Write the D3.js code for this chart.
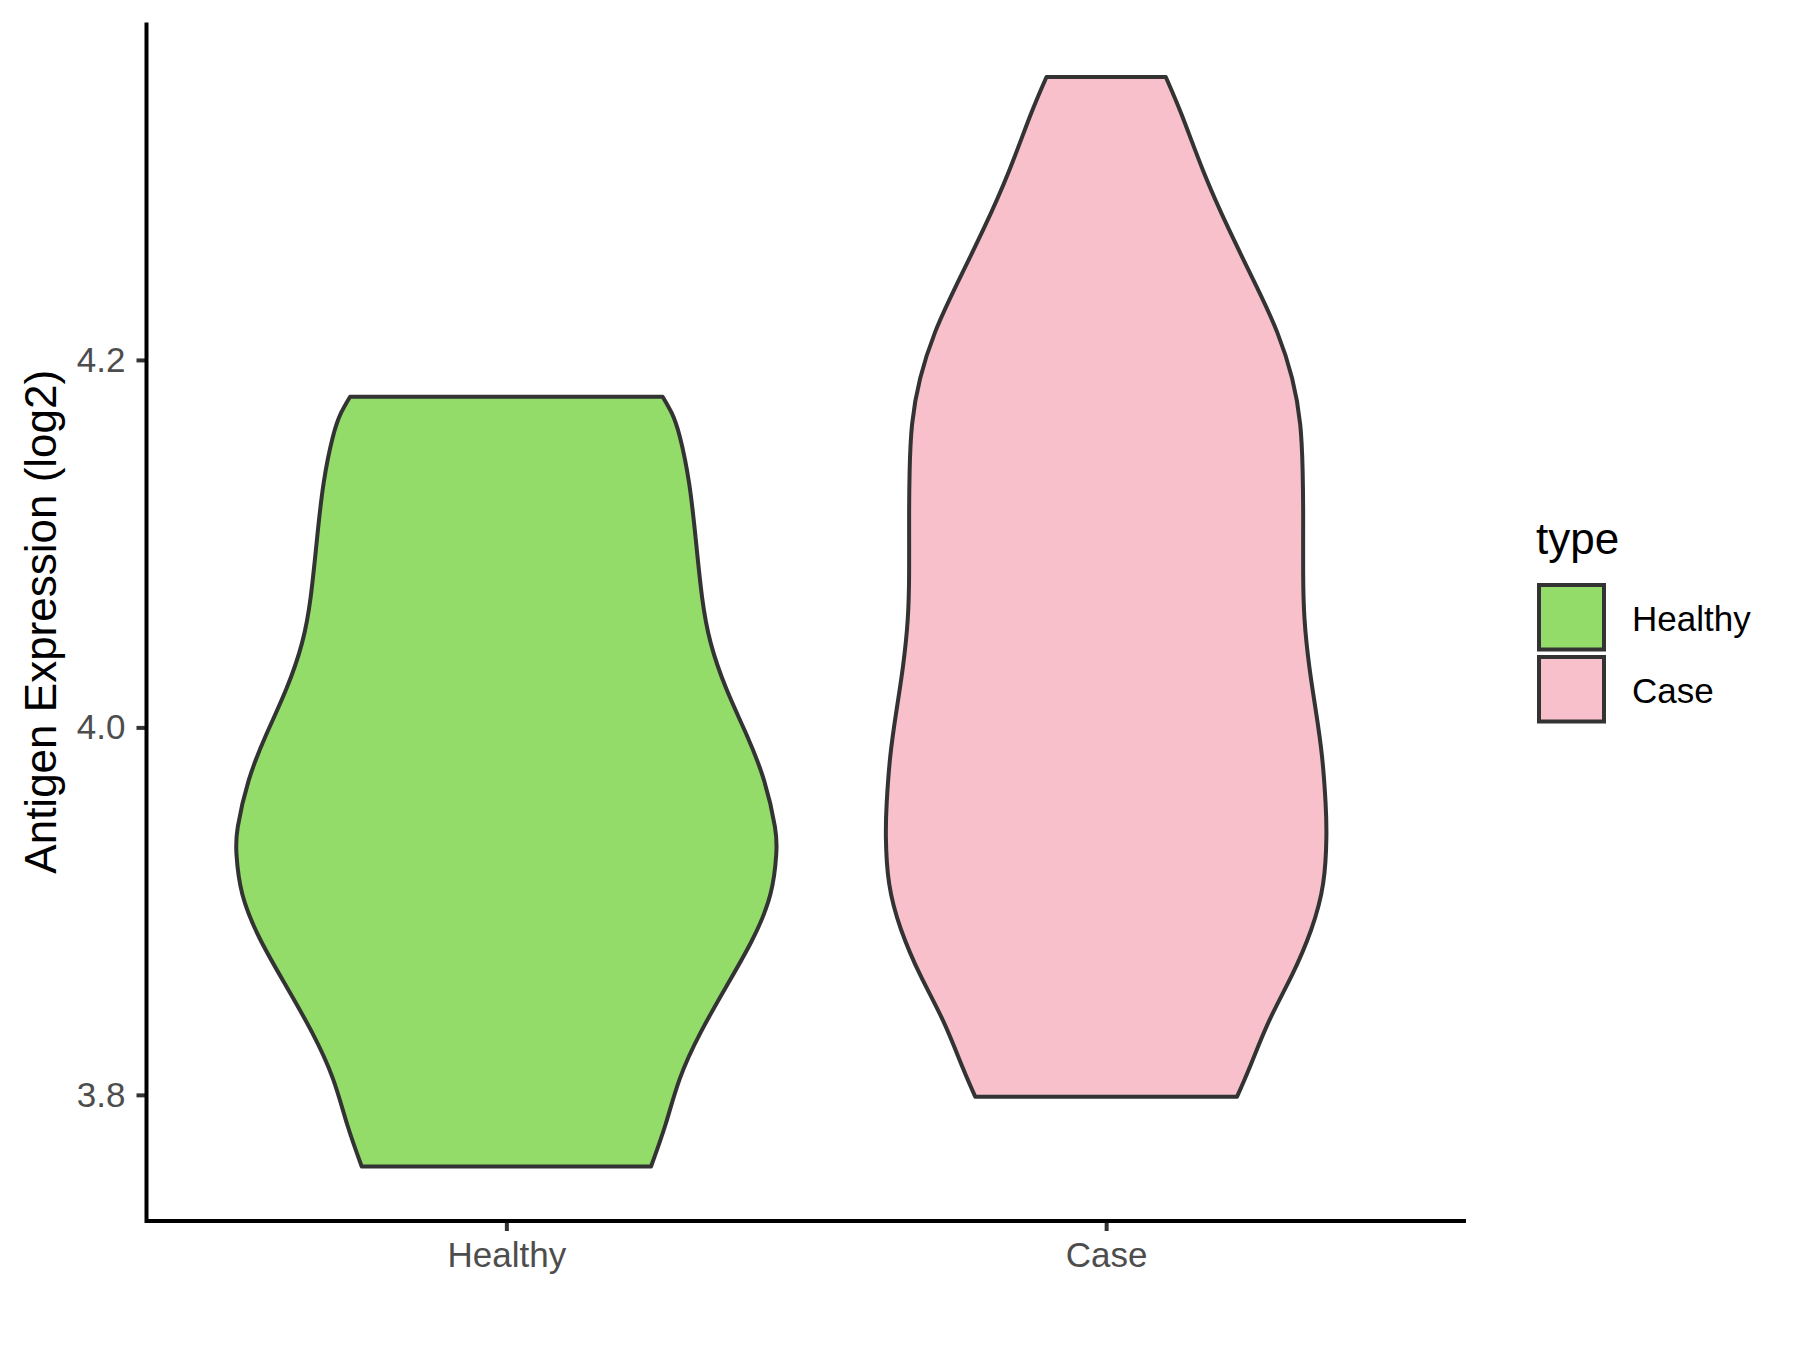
<!DOCTYPE html>
<html>
<head>
<meta charset="utf-8">
<script src="https://cdn.jsdelivr.net/npm/d3@7"></script>
<style>
  body { margin: 0; background: #fff; }
  svg { display: block; font-family: "Liberation Sans", Arial, sans-serif; }
</style>
</head>
<body>
<svg id="chart"></svg>
<script>
// categories and colours
let categories = ["Healthy", "Case"];
let fills = ["#93dc6a", "#f7c0cb"];

// violin outlines: expression value and relative density
let healthyValues  = [4.180, 4.171, 4.158, 4.133, 4.102, 4.071, 4.046, 4.021, 3.996, 3.971, 3.946, 3.931, 3.909, 3.884, 3.859, 3.834, 3.809, 3.784, 3.761];
let healthyDensity = [0.579, 0.613, 0.643, 0.677, 0.702, 0.725, 0.757, 0.815, 0.890, 0.955, 0.995, 1.000, 0.978, 0.910, 0.815, 0.720, 0.643, 0.590, 0.536];

let caseValues  = [4.354, 4.333, 4.302, 4.271, 4.240, 4.215, 4.190, 4.165, 4.140, 4.115, 4.084, 4.059, 4.034, 4.009, 3.984, 3.959, 3.940, 3.915, 3.890, 3.865, 3.840, 3.815, 3.799];
let caseDensity = [0.221, 0.281, 0.362, 0.455, 0.557, 0.634, 0.689, 0.719, 0.728, 0.730, 0.730, 0.735, 0.752, 0.777, 0.800, 0.813, 0.816, 0.804, 0.760, 0.688, 0.603, 0.532, 0.485];

let yTicks = [3.8, 4.0, 4.2];

let svgWidth = 1800, svgHeight = 1350;
let panel = {left: 146.5, right: 1466, top: 22.5, bottom: 1221};

let svg = d3.select("#chart")
    .attr("width", svgWidth)
    .attr("height", svgHeight);

// scales
let allValues = healthyValues.concat(caseValues);
let ext = d3.extent(allValues);
let pad = (ext[1] - ext[0]) * 0.05;

let x = d3.scalePoint()
    .domain(categories)
    .range([panel.left, panel.right])
    .padding(0.6);

let y = d3.scaleLinear()
    .domain([ext[0] - pad, ext[1] + pad])
    .range([panel.bottom, panel.top]);

let w = d3.scaleLinear()
    .domain([0, 1])
    .range([0, x.step() * 0.45]);

let violins = [
    {name: "Healthy", values: healthyValues, density: healthyDensity, fill: fills[0]},
    {name: "Case", values: caseValues, density: caseDensity, fill: fills[1]}
];

// violins
violins.forEach(function(v) {
    let pts = v.values.map(function(val, i) { return {v: val, d: v.density[i]}; });
    let area = d3.area()
        .y(function(d) { return y(d.v); })
        .x0(function(d) { return x(v.name) - w(d.d); })
        .x1(function(d) { return x(v.name) + w(d.d); })
        .curve(d3.curveNatural);
    svg.append("path")
        .attr("d", area(pts))
        .attr("fill", v.fill)
        .attr("stroke", "#333333")
        .attr("stroke-width", 4)
        .attr("stroke-linejoin", "round");
});

// axes
let yAxis = svg.append("g")
    .attr("transform", "translate(" + panel.left + ",0)")
    .call(d3.axisLeft(y).tickValues(yTicks).tickFormat(d3.format(".1f")).tickSize(10).tickSizeOuter(0).tickPadding(11));

let xAxis = svg.append("g")
    .attr("transform", "translate(0," + panel.bottom + ")")
    .call(d3.axisBottom(x).tickSize(10).tickSizeOuter(0).tickPadding(11));

[yAxis, xAxis].forEach(function(ax) {
    ax.select(".domain").remove();
    ax.selectAll(".tick line").attr("stroke", "#333333").attr("stroke-width", 4);
    ax.selectAll(".tick text")
        .attr("fill", "#4d4d4d")
        .attr("font-size", "35px")
        .attr("font-family", "Liberation Sans, Arial, sans-serif");
});

svg.append("path")
    .attr("d", "M" + panel.left + "," + panel.top + "V" + panel.bottom + "H" + panel.right)
    .attr("fill", "none")
    .attr("stroke", "#000")
    .attr("stroke-width", 4);

// axis title
svg.append("text")
    .attr("transform", "translate(56," + ((panel.top + panel.bottom) / 2) + ") rotate(-90)")
    .attr("text-anchor", "middle")
    .attr("font-size", "44px")
    .attr("fill", "#000")
    .text("Antigen Expression (log2)");

// legend
let legend = svg.append("g").attr("transform", "translate(1536,0)");

legend.append("text")
    .attr("x", 0)
    .attr("y", 554)
    .attr("font-size", "44px")
    .attr("fill", "#000")
    .text("type");

let keys = legend.selectAll(".key")
    .data(violins)
    .enter()
    .append("g")
    .attr("class", "key")
    .attr("transform", function(d, i) { return "translate(0," + (585 + i * 72) + ")"; });

keys.append("rect")
    .attr("x", 3)
    .attr("y", 0)
    .attr("width", 65)
    .attr("height", 64.5)
    .attr("fill", function(d) { return d.fill; })
    .attr("stroke", "#333333")
    .attr("stroke-width", 4);

keys.append("text")
    .attr("x", 96)
    .attr("y", 46)
    .attr("font-size", "35px")
    .attr("fill", "#000")
    .text(function(d) { return d.name; });
</script>
</body>
</html>
